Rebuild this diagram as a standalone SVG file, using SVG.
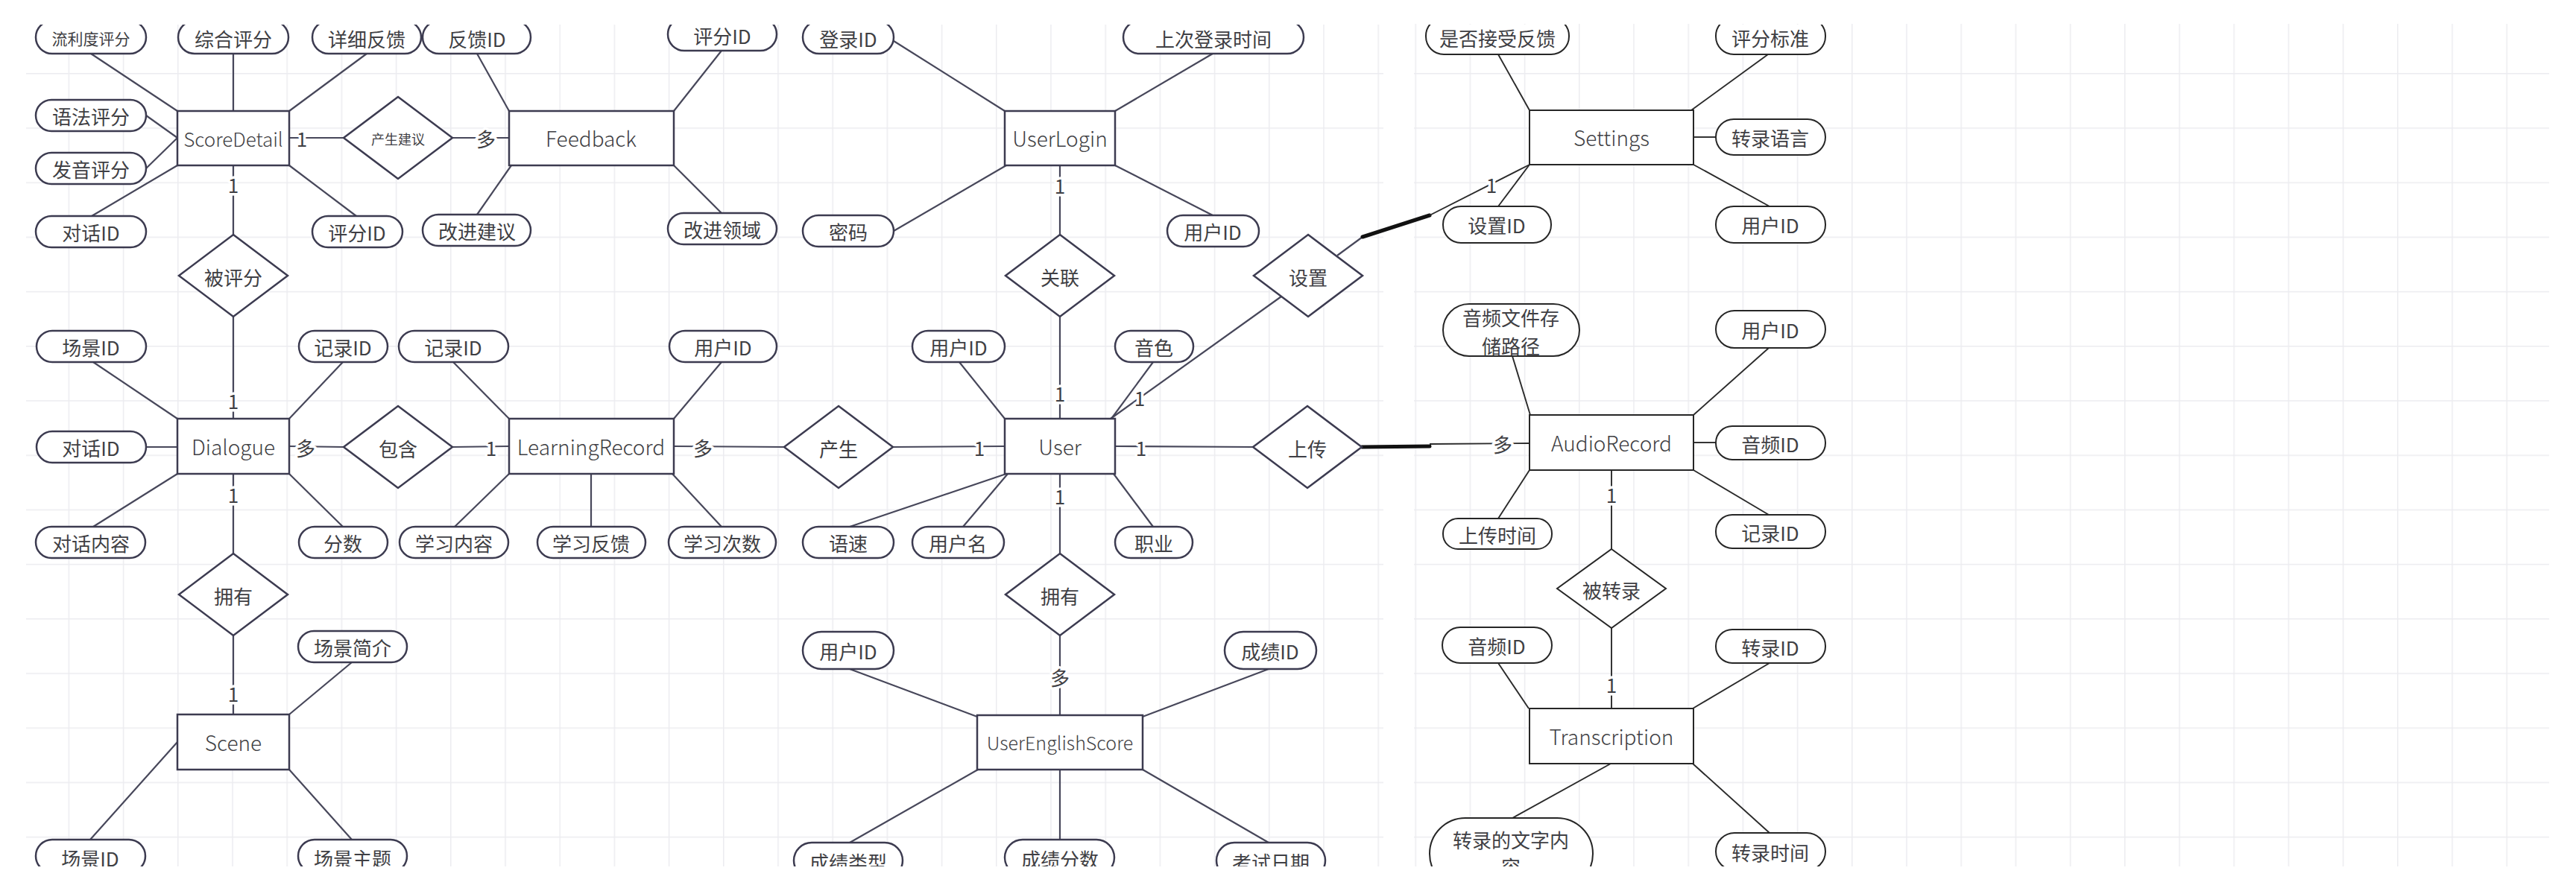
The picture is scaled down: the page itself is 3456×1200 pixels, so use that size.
<svg xmlns="http://www.w3.org/2000/svg" width="3456" height="1200" viewBox="0 0 3456 1200">
<defs>
<style>
text{font-family:"Noto Sans CJK SC","Noto Sans",sans-serif;fill:#3f3f44;text-anchor:middle;dominant-baseline:central;font-size:26px}
.ent,.attr,.rel{fill:#fff;stroke:#3c3b50;stroke-width:2.5}
.r .ent,.r .attr{stroke:#262626;stroke-width:2}
.et{font-size:28px;font-weight:300}
.s21{font-size:21px}
.s18{font-size:18px}
#connectors line{stroke:#47475a;stroke-width:2.2}
#connectors .rc{stroke:#2a2a2a;stroke-width:1.9}
#connectors .thick{stroke:#111;stroke-width:5;stroke-linecap:round}
.card{font-size:26px;paint-order:stroke;stroke:#fff;stroke-width:7px;stroke-linejoin:round}
</style>
<pattern id="gridL" patternUnits="userSpaceOnUse" x="18.4" y="24.8" width="73.2" height="73.2">
<path d="M0 0.75H73.2M0.75 0V73.2" stroke="#ececf0" stroke-width="1.5" fill="none"/>
</pattern>
<pattern id="gridR" patternUnits="userSpaceOnUse" x="68.4" y="24.8" width="73.2" height="73.2">
<path d="M0 0.75H73.2M0.75 0V73.2" stroke="#ececf0" stroke-width="1.5" fill="none"/>
</pattern>
<clipPath id="view"><rect x="35" y="33" width="3385" height="1130"/></clipPath>
</defs>
<rect width="3456" height="1200" fill="#fff"/>
<g id="grid">
<rect x="35" y="33" width="1821" height="1130" fill="url(#gridL)"/>
<rect x="1897" y="32" width="1523" height="1131" fill="url(#gridR)"/>
</g>
<g clip-path="url(#view)">
<g id="connectors">
<line x1="122" y1="72" x2="238" y2="149"/>
<line x1="313" y1="72" x2="313" y2="149"/>
<line x1="492" y1="72" x2="388" y2="149"/>
<line x1="196" y1="155" x2="238" y2="185"/>
<line x1="196" y1="226" x2="238" y2="185"/>
<line x1="123" y1="290" x2="238" y2="222"/>
<line x1="478" y1="290" x2="388" y2="222"/>
<line x1="388" y1="185" x2="461" y2="185"/>
<line x1="607" y1="185" x2="683" y2="185"/>
<line x1="313" y1="222" x2="313" y2="315"/>
<line x1="640" y1="72" x2="683" y2="149"/>
<line x1="968" y1="68" x2="904" y2="149"/>
<line x1="640" y1="288" x2="686" y2="222"/>
<line x1="968" y1="286" x2="904" y2="222"/>
<line x1="1199" y1="55" x2="1348" y2="149"/>
<line x1="1627" y1="72" x2="1496" y2="149"/>
<line x1="1199" y1="310" x2="1350" y2="222"/>
<line x1="1627" y1="289" x2="1496" y2="222"/>
<line x1="1422" y1="222" x2="1422" y2="315"/>
<line x1="1422" y1="425" x2="1422" y2="562"/>
<line x1="1794" y1="343" x2="1828" y2="318"/>
<line class="thick" x1="1828" y1="318" x2="1918" y2="289"/>
<line class="rc" x1="1918" y1="289" x2="2052" y2="221"/>
<line x1="1490" y1="562" x2="1719" y2="398"/>
<line class="rc" x1="2010" y1="73" x2="2052" y2="148"/>
<line class="rc" x1="2372" y1="73" x2="2269" y2="148"/>
<line class="rc" x1="2272" y1="184" x2="2302" y2="184"/>
<line class="rc" x1="2272" y1="221" x2="2374" y2="277"/>
<line class="rc" x1="2010" y1="277" x2="2052" y2="221"/>
<line x1="125" y1="486" x2="238" y2="562"/>
<line x1="460" y1="486" x2="388" y2="562"/>
<line x1="196" y1="600" x2="238" y2="600"/>
<line x1="125" y1="707" x2="238" y2="636"/>
<line x1="460" y1="707" x2="388" y2="636"/>
<line x1="388" y1="599" x2="461" y2="600"/>
<line x1="607" y1="600" x2="683" y2="599"/>
<line x1="313" y1="425" x2="313" y2="562"/>
<line x1="313" y1="636" x2="313" y2="743"/>
<line x1="608" y1="486" x2="683" y2="562"/>
<line x1="968" y1="486" x2="904" y2="562"/>
<line x1="610" y1="707" x2="683" y2="636"/>
<line x1="793" y1="707" x2="793" y2="636"/>
<line x1="968" y1="707" x2="902" y2="636"/>
<line x1="904" y1="599" x2="1052" y2="600"/>
<line x1="1198" y1="600" x2="1348" y2="599"/>
<line x1="1287" y1="486" x2="1348" y2="562"/>
<line x1="1547" y1="486" x2="1491" y2="562"/>
<line x1="1496" y1="599" x2="1681" y2="600"/>
<line class="thick" x1="1827" y1="600" x2="1918" y2="599"/>
<line class="rc" x1="1918" y1="596" x2="2052" y2="595"/>
<line x1="1140" y1="707" x2="1350" y2="636"/>
<line x1="1292" y1="707" x2="1352" y2="636"/>
<line x1="1547" y1="707" x2="1494" y2="636"/>
<line x1="1422" y1="636" x2="1422" y2="743"/>
<line x1="313" y1="853" x2="313" y2="959"/>
<line x1="472" y1="889" x2="388" y2="959"/>
<line x1="121" y1="1127" x2="238" y2="996"/>
<line x1="472" y1="1127" x2="388" y2="1033"/>
<line x1="1422" y1="853" x2="1422" y2="960"/>
<line x1="1140" y1="898" x2="1311" y2="962"/>
<line x1="1702" y1="898" x2="1533" y2="962"/>
<line x1="1140" y1="1131" x2="1312" y2="1033"/>
<line x1="1422" y1="1127" x2="1422" y2="1033"/>
<line x1="1702" y1="1131" x2="1533" y2="1033"/>
<line class="rc" x1="2029" y1="478" x2="2053" y2="557"/>
<line class="rc" x1="2373" y1="467" x2="2272" y2="557"/>
<line class="rc" x1="2272" y1="594" x2="2302" y2="594"/>
<line class="rc" x1="2010" y1="696" x2="2052" y2="631"/>
<line class="rc" x1="2373" y1="691" x2="2272" y2="631"/>
<line class="rc" x1="2162" y1="631" x2="2162" y2="737"/>
<line class="rc" x1="2162" y1="843" x2="2162" y2="951"/>
<line class="rc" x1="2010" y1="890" x2="2051" y2="951"/>
<line class="rc" x1="2374" y1="890" x2="2271" y2="951"/>
<line class="rc" x1="2029" y1="1098" x2="2161" y2="1025"/>
<line class="rc" x1="2374" y1="1118" x2="2271" y2="1025"/>
<text class="card" x="405" y="185">1</text>
<text class="card" x="652" y="185">多</text>
<text class="card" x="313" y="247">1</text>
<text class="card" x="1422" y="248">1</text>
<text class="card" x="1422" y="527">1</text>
<text class="card" x="2001" y="247">1</text>
<text class="card" x="1529" y="533">1</text>
<text class="card" x="313" y="537">1</text>
<text class="card" x="313" y="663">1</text>
<text class="card" x="410" y="600">多</text>
<text class="card" x="659" y="600">1</text>
<text class="card" x="943" y="600">多</text>
<text class="card" x="1314" y="600">1</text>
<text class="card" x="1531" y="600">1</text>
<text class="card" x="2016" y="595">多</text>
<text class="card" x="1422" y="665">1</text>
<text class="card" x="313" y="930">1</text>
<text class="card" x="1422" y="908">多</text>
<text class="card" x="2162" y="663">1</text>
<text class="card" x="2162" y="918">1</text>
</g>

<g id="e-scoredetail"><rect class="ent" x="238" y="149" width="150" height="73"/><text class="et" x="313" y="185" style="font-size:26px">ScoreDetail</text></g>
<g id="e-feedback"><rect class="ent" x="683" y="149" width="221" height="73"/><text class="et" x="793" y="185">Feedback</text></g>
<g id="e-userlogin"><rect class="ent" x="1348" y="149" width="148" height="73"/><text class="et" x="1422" y="185">UserLogin</text></g>
<g id="e-dialogue"><rect class="ent" x="238" y="562" width="150" height="74"/><text class="et" x="313" y="599">Dialogue</text></g>
<g id="e-learningrecord"><rect class="ent" x="683" y="562" width="221" height="74"/><text class="et" x="793" y="599">LearningRecord</text></g>
<g id="e-user"><rect class="ent" x="1348" y="562" width="148" height="74"/><text class="et" x="1422" y="599">User</text></g>
<g id="e-scene"><rect class="ent" x="238" y="959" width="150" height="74"/><text class="et" x="313" y="996">Scene</text></g>
<g id="e-userenglishscore"><rect class="ent" x="1311" y="960" width="222" height="73"/><text class="et" x="1422" y="996" style="font-size:25px">UserEnglishScore</text></g>
<g class="r">
<g id="e-settings"><rect class="ent" x="2052" y="148" width="220" height="73"/><text class="et" x="2162" y="184">Settings</text></g>
<g id="e-audiorecord"><rect class="ent" x="2052" y="557" width="220" height="74"/><text class="et" x="2162" y="594">AudioRecord</text></g>
<g id="e-transcription"><rect class="ent" x="2052" y="951" width="220" height="74"/><text class="et" x="2162" y="988">Transcription</text></g>
</g>

<g id="r-chanshengjianyi"><polygon class="rel" points="534,130 607,185 534,240 461,185"/><text class="s18" x="534" y="186">产生建议</text></g>
<g id="r-beipingfen"><polygon class="rel" points="313,315 386,370 313,425 240,370"/><text x="313" y="371">被评分</text></g>
<g id="r-baohan"><polygon class="rel" points="534,545 607,600 534,655 461,600"/><text x="534" y="601">包含</text></g>
<g id="r-chansheng"><polygon class="rel" points="1125,545 1198,600 1125,655 1052,600"/><text x="1125" y="601">产生</text></g>
<g id="r-guanlian"><polygon class="rel" points="1422,315 1495,370 1422,425 1349,370"/><text x="1422" y="371">关联</text></g>
<g id="r-shezhi"><polygon class="rel" points="1755,315 1828,370 1755,425 1682,370"/><text x="1755" y="371">设置</text></g>
<g id="r-shangchuan"><polygon class="rel" points="1754,545 1827,600 1754,655 1681,600"/><text x="1754" y="601">上传</text></g>
<g id="r-yongyou1"><polygon class="rel" points="313,743 386,798 313,853 240,798"/><text x="313" y="799">拥有</text></g>
<g id="r-yongyou2"><polygon class="rel" points="1422,743 1495,798 1422,853 1349,798"/><text x="1422" y="799">拥有</text></g>
<g id="r-beizhuanlu" class="r"><polygon class="rel" style="stroke:#262626;stroke-width:2" points="2162,737 2235,790 2162,843 2089,790"/><text x="2162" y="791">被转录</text></g>

<g id="a-liulidu"><rect class="attr" x="48" y="28" width="148" height="44" rx="22"/><text class="s21" x="122" y="51">流利度评分</text></g>
<g id="a-zonghe"><rect class="attr" x="239" y="28" width="148" height="44" rx="22"/><text x="313" y="51">综合评分</text></g>
<g id="a-xiangxi"><rect class="attr" x="419" y="28" width="146" height="44" rx="22"/><text x="492" y="51">详细反馈</text></g>
<g id="a-fankuiid"><rect class="attr" x="567" y="28" width="145" height="44" rx="22"/><text x="640" y="51">反馈ID</text></g>
<g id="a-pingfenid-fb"><rect class="attr" x="896" y="24" width="146" height="44" rx="22"/><text x="969" y="47">评分ID</text></g>
<g id="a-dengluid"><rect class="attr" x="1077" y="28" width="122" height="44" rx="22"/><text x="1138" y="51">登录ID</text></g>
<g id="a-shangci"><rect class="attr" x="1507" y="28" width="242" height="44" rx="22"/><text x="1628" y="51">上次登录时间</text></g>
<g id="a-yufa"><rect class="attr" x="48" y="134" width="148" height="42" rx="21"/><text x="122" y="155">语法评分</text></g>
<g id="a-fayin"><rect class="attr" x="48" y="205" width="148" height="42" rx="21"/><text x="122" y="226">发音评分</text></g>
<g id="a-duihuaid-sd"><rect class="attr" x="48" y="290" width="148" height="42" rx="21"/><text x="122" y="311">对话ID</text></g>
<g id="a-pingfenid-sd"><rect class="attr" x="419" y="290" width="121" height="42" rx="21"/><text x="479" y="311">评分ID</text></g>
<g id="a-gaijinjianyi"><rect class="attr" x="567" y="288" width="145" height="42" rx="21"/><text x="640" y="309">改进建议</text></g>
<g id="a-gaijinlingyu"><rect class="attr" x="896" y="286" width="146" height="42" rx="21"/><text x="969" y="307">改进领域</text></g>
<g id="a-mima"><rect class="attr" x="1077" y="289" width="122" height="42" rx="21"/><text x="1138" y="310">密码</text></g>
<g id="a-yonghuid-ul"><rect class="attr" x="1566" y="289" width="123" height="42" rx="21"/><text x="1627" y="310">用户ID</text></g>
<g id="a-changjingid-d"><rect class="attr" x="49" y="444" width="147" height="42" rx="21"/><text x="122" y="465">场景ID</text></g>
<g id="a-jiluid-d"><rect class="attr" x="401" y="444" width="119" height="42" rx="21"/><text x="460" y="465">记录ID</text></g>
<g id="a-jiluid-lr"><rect class="attr" x="535" y="444" width="147" height="42" rx="21"/><text x="608" y="465">记录ID</text></g>
<g id="a-yonghuid-lr"><rect class="attr" x="898" y="444" width="144" height="42" rx="21"/><text x="970" y="465">用户ID</text></g>
<g id="a-yonghuid-u"><rect class="attr" x="1224" y="444" width="124" height="42" rx="21"/><text x="1286" y="465">用户ID</text></g>
<g id="a-yinse"><rect class="attr" x="1496" y="444" width="105" height="42" rx="21"/><text x="1548" y="465">音色</text></g>
<g id="a-duihuaid-d"><rect class="attr" x="49" y="579" width="147" height="42" rx="21"/><text x="122" y="600">对话ID</text></g>
<g id="a-duihuaneirong"><rect class="attr" x="48" y="707" width="147" height="42" rx="21"/><text x="122" y="728">对话内容</text></g>
<g id="a-fenshu"><rect class="attr" x="401" y="707" width="119" height="42" rx="21"/><text x="460" y="728">分数</text></g>
<g id="a-xuexineirong"><rect class="attr" x="536" y="707" width="146" height="42" rx="21"/><text x="609" y="728">学习内容</text></g>
<g id="a-xuexifankui"><rect class="attr" x="721" y="707" width="145" height="42" rx="21"/><text x="793" y="728">学习反馈</text></g>
<g id="a-xuexicishu"><rect class="attr" x="897" y="707" width="144" height="42" rx="21"/><text x="969" y="728">学习次数</text></g>
<g id="a-yusu"><rect class="attr" x="1077" y="707" width="122" height="42" rx="21"/><text x="1138" y="728">语速</text></g>
<g id="a-yonghuming"><rect class="attr" x="1224" y="707" width="123" height="42" rx="21"/><text x="1285" y="728">用户名</text></g>
<g id="a-zhiye"><rect class="attr" x="1496" y="707" width="104" height="42" rx="21"/><text x="1548" y="728">职业</text></g>
<g id="a-changjingjianjie"><rect class="attr" x="400" y="847" width="146" height="42" rx="21"/><text x="473" y="868">场景简介</text></g>
<g id="a-yonghuid-ues"><rect class="attr" x="1077" y="848" width="122" height="50" rx="25"/><text x="1138" y="873">用户ID</text></g>
<g id="a-chengjiid"><rect class="attr" x="1643" y="848" width="123" height="50" rx="25"/><text x="1704" y="873">成绩ID</text></g>
<g id="a-changjingid-s"><rect class="attr" x="48" y="1127" width="147" height="44" rx="22"/><text x="121" y="1151">场景ID</text></g>
<g id="a-changjingzhuti"><rect class="attr" x="400" y="1127" width="146" height="44" rx="22"/><text x="473" y="1151">场景主题</text></g>
<g id="a-chengjileixing"><rect class="attr" x="1065" y="1131" width="146" height="48" rx="24"/><text x="1138" y="1156">成绩类型</text></g>
<g id="a-chengjifenshu"><rect class="attr" x="1348" y="1127" width="147" height="48" rx="24"/><text x="1422" y="1152">成绩分数</text></g>
<g id="a-kaoshiriqi"><rect class="attr" x="1632" y="1131" width="146" height="48" rx="24"/><text x="1705" y="1156">考试日期</text></g>
<g class="r">
<g id="a-shifoujieshou"><rect class="attr" x="1913" y="24" width="192" height="49" rx="24"/><text x="2009" y="50">是否接受反馈</text></g>
<g id="a-pingfenbiaozhun"><rect class="attr" x="2302" y="24" width="147" height="49" rx="24"/><text x="2375" y="50">评分标准</text></g>
<g id="a-zhuanluyuyan"><rect class="attr" x="2302" y="160" width="147" height="48" rx="24"/><text x="2375" y="184">转录语言</text></g>
<g id="a-shezhiid"><rect class="attr" x="1936" y="277" width="145" height="49" rx="24"/><text x="2008" y="301">设置ID</text></g>
<g id="a-yonghuid-set"><rect class="attr" x="2302" y="277" width="147" height="49" rx="24"/><text x="2375" y="301">用户ID</text></g>
<g id="a-lujing"><rect class="attr" x="1936" y="408" width="183" height="70" rx="35"/><text x="2027" y="425">音频文件存</text><text x="2027" y="463">储路径</text></g>
<g id="a-yonghuid-ar"><rect class="attr" x="2302" y="417" width="147" height="50" rx="25"/><text x="2375" y="442">用户ID</text></g>
<g id="a-yinpinid-ar"><rect class="attr" x="2302" y="572" width="147" height="45" rx="22"/><text x="2375" y="595">音频ID</text></g>
<g id="a-shangchuanshijian"><rect class="attr" x="1936" y="696" width="146" height="41" rx="20"/><text x="2009" y="717">上传时间</text></g>
<g id="a-jiluid-ar"><rect class="attr" x="2302" y="691" width="147" height="45" rx="22"/><text x="2375" y="714">记录ID</text></g>
<g id="a-yinpinid-t"><rect class="attr" x="1935" y="842" width="147" height="48" rx="24"/><text x="2008" y="866">音频ID</text></g>
<g id="a-zhuanluid"><rect class="attr" x="2302" y="845" width="147" height="45" rx="22"/><text x="2375" y="868">转录ID</text></g>
<g id="a-wenzineirong"><rect class="attr" x="1918" y="1098" width="219" height="96" rx="48"/><text x="2027" y="1126">转录的文字内</text><text x="2027" y="1162">容</text></g>
<g id="a-zhuanlushijian"><rect class="attr" x="2302" y="1118" width="147" height="50" rx="25"/><text x="2375" y="1143">转录时间</text></g>
</g>
</g>
</svg>
